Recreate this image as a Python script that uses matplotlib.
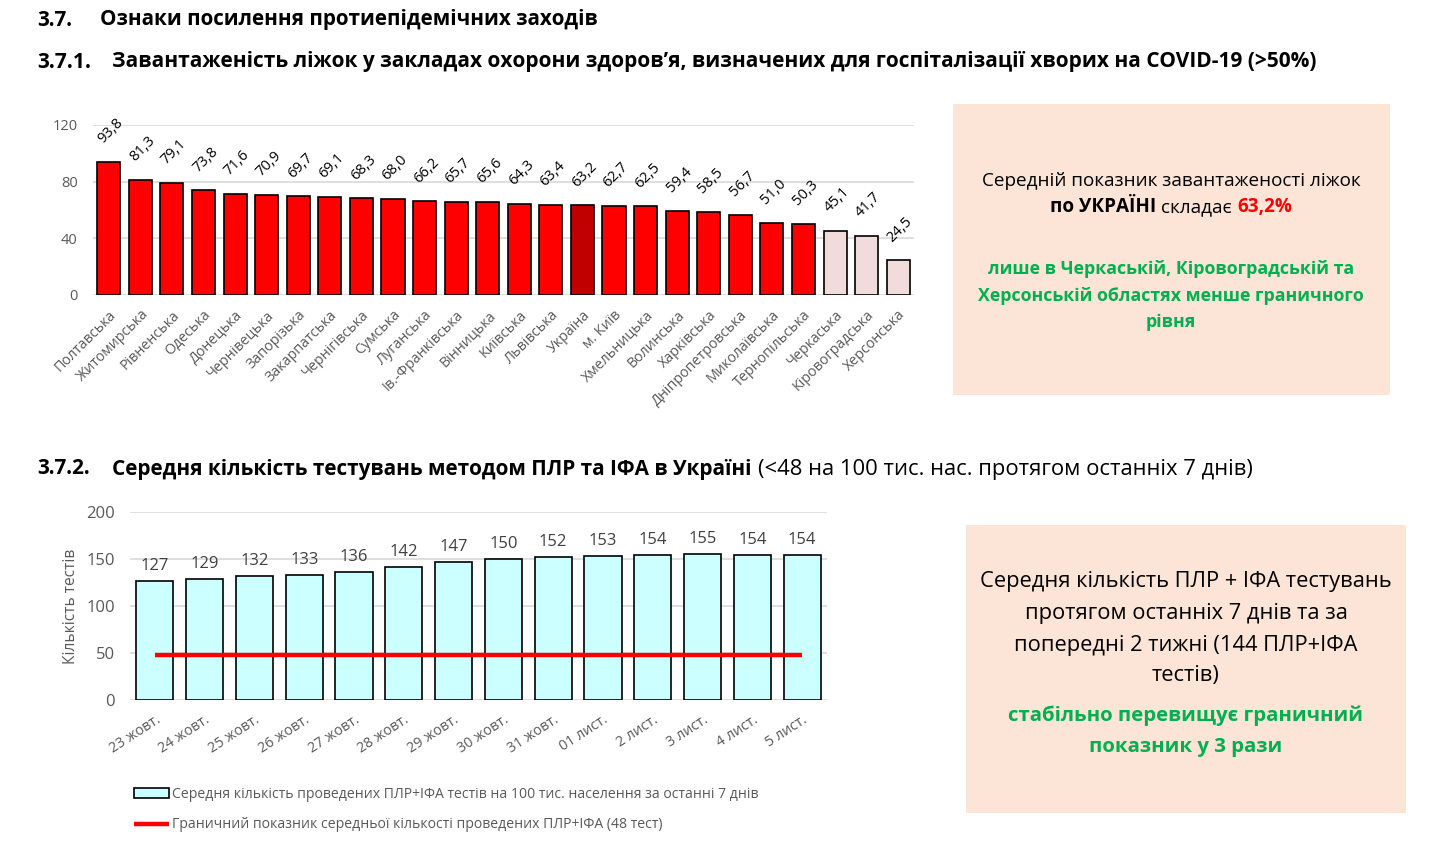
import matplotlib
matplotlib.use("Agg")
import matplotlib.pyplot as plt
import numpy as np
from matplotlib.patches import Rectangle

plt.rcParams["font.family"] = ["Open Sans", "DejaVu Sans"]

# --- Data --------------------------------------------------------------------
regions = ["Полтавська", "Житомирська", "Рівненська", "Одеська", "Донецька",
           "Чернівецька", "Запорізька", "Закарпатська", "Чернігівська", "Сумська",
           "Луганська", "Ів.-Франківська", "Вінницька", "Київська", "Львівська",
           "Україна", "м. Київ", "Хмельницька", "Волинська", "Харківська",
           "Дніпропетровська", "Миколаївська", "Тернопільська", "Черкаська",
           "Кіровоградська", "Херсонська"]
bed_load = [93.8, 81.3, 79.1, 73.8, 71.6, 70.9, 69.7, 69.1, 68.3, 68.0, 66.2,
            65.7, 65.6, 64.3, 63.4, 63.2, 62.7, 62.5, 59.4, 58.5, 56.7, 51.0,
            50.3, 45.1, 41.7, 24.5]
bed_threshold = 50

dates = ["23 жовт.", "24 жовт.", "25 жовт.", "26 жовт.", "27 жовт.", "28 жовт.",
         "29 жовт.", "30 жовт.", "31 жовт.", "01 лист.", "2 лист.", "3 лист.",
         "4 лист.", "5 лист."]
tests = [127, 129, 132, 133, 136, 142, 147, 150, 152, 153, 154, 155, 154, 154]
test_threshold = 48

# --- Figure helpers ----------------------------------------------------------
W, H = 1429, 842
fig = plt.figure(figsize=(W / 100, H / 100), dpi=100)
renderer = fig.canvas.get_renderer()


def fx(x):
    return x / W


def fy(y):
    return 1 - y / H


def put(x, y, s, ha="left", size=12, **kw):
    return fig.text(fx(x), fy(y), s, ha=ha, va="center", fontsize=size, **kw)


def fit(t, width_px):
    w = t.get_window_extent(renderer).width
    t.set_fontsize(t.get_fontsize() * width_px / w)
    return t.get_fontsize()


def run_centered(parts, xc, y, size):
    texts = [put(0, y, s, size=size, fontweight=wt, color=c) for s, wt, c in parts]
    widths = [t.get_window_extent(renderer).width for t in texts]
    gap = size * 0.28 * 100 / 72
    x = xc - (sum(widths) + gap * (len(texts) - 1)) / 2
    for t, w in zip(texts, widths):
        t.set_x(fx(x))
        x += w + gap


GRAY = "#595959"
GREEN = "#00B050"

# --- Titles ------------------------------------------------------------------
t = put(100, 20, "Ознаки посилення протиепідемічних заходів", fontweight="bold")
s = fit(t, 496)
put(37, 20, "3.7.", size=s, fontweight="bold")

t = put(112, 62, "Завантаженість ліжок у закладах охорони здоров’я, визначених "
        "для госпіталізації хворих на COVID-19 (>50%)", fontweight="bold")
s = fit(t, 1200)
put(37, 62, "3.7.1.", size=s, fontweight="bold")

t = put(112, 469, "Середня кількість тестувань методом ПЛР та ІФА в Україні",
        fontweight="bold")
s = fit(t, 640)
put(37, 469, "3.7.2.", size=s, fontweight="bold")
t = put(758, 469, "(<48 на 100 тис. нас. протягом останніх 7 днів)")
fit(t, 492)

# --- Chart 3.7.1 -------------------------------------------------------------
ax1 = fig.add_axes([fx(93), fy(295), (914 - 93) / W, (295 - 125) / H])
x1 = np.arange(len(regions))
colors = ["#C00000" if r == "Україна" else ("#F2DCDB" if v < bed_threshold else "#FF0000")
          for r, v in zip(regions, bed_load)]
ax1.bar(x1, bed_load, width=0.73, color=colors, edgecolor="black", linewidth=1.2,
        zorder=3)
for xi, v in zip(x1, bed_load):
    ax1.annotate(f"{v:.1f}".replace(".", ","), xy=(xi - 0.1, v), xytext=(0, 11),
                 textcoords="offset points", rotation=45, rotation_mode="anchor",
                 ha="left", va="bottom", fontsize=10.6, color="black")
ax1.set_xlim(-0.5, len(regions) - 0.5)
ax1.set_ylim(0, 120)
ax1.set_yticks([0, 40, 80, 120])
ax1.set_xticks(x1)
ax1.set_xticklabels(regions, rotation=45, ha="right", rotation_mode="anchor")
ax1.grid(axis="y", color="#D9D9D9", linewidth=1.2, zorder=0)
ax1.tick_params(axis="both", length=0, colors=GRAY, labelsize=10.3)
ax1.tick_params(axis="y", pad=11, labelsize=10.5)
ax1.tick_params(axis="x", pad=9)
for sp in ax1.spines.values():
    sp.set_visible(False)

# --- Chart 3.7.2 -------------------------------------------------------------
ax2 = fig.add_axes([fx(130), fy(700), (827 - 130) / W, (700 - 512) / H])
x2 = np.arange(len(dates))
bars = ax2.bar(x2, tests, width=0.745, color="#CCFFFF", edgecolor="black",
               linewidth=1.2, zorder=3)
line, = ax2.plot(x2, np.full(len(dates), test_threshold), color="#FF0000",
                 linewidth=3.2, zorder=4, solid_capstyle="butt")
ax2.bar_label(bars, padding=5, fontsize=12, color="#404040")
ax2.set_xlim(-0.5, len(dates) - 0.5)
ax2.set_ylim(0, 200)
ax2.set_yticks([0, 50, 100, 150, 200])
ax2.set_xticks(x2)
ax2.set_xticklabels(dates, rotation=33, ha="right", rotation_mode="anchor")
ax2.grid(axis="y", color="#D9D9D9", linewidth=1.2, zorder=0)
ax2.tick_params(axis="both", length=0, colors=GRAY)
ax2.tick_params(axis="y", pad=11, labelsize=12)
ax2.tick_params(axis="x", pad=9, labelsize=10.3)
ax2.set_ylabel("Кількість тестів", color=GRAY, fontsize=11.2, labelpad=5)
for sp in ax2.spines.values():
    sp.set_visible(False)

leg = ax2.legend([bars, line],
                 ["Середня кількість проведених ПЛР+ІФА тестів на 100 тис. населення за останні 7 днів",
                  "Граничний показник середньої кількості проведених ПЛР+ІФА (48 тест)"],
                 loc="upper left", bbox_to_anchor=(fx(134), fy(787)),
                 bbox_transform=fig.transFigure, frameon=False, fontsize=10.1,
                 handlelength=2.5, handletextpad=0.2, labelspacing=1.1,
                 borderpad=0, borderaxespad=0)
for lt in leg.get_texts():
    lt.set_color(GRAY)

# --- Side boxes --------------------------------------------------------------
fig.add_artist(Rectangle((fx(953), fy(395)), (1390 - 953) / W, (395 - 104) / H,
                         transform=fig.transFigure, facecolor="#FCE4D6",
                         edgecolor="none", zorder=0))
fig.add_artist(Rectangle((fx(966), fy(813)), (1406 - 966) / W, (813 - 525) / H,
                         transform=fig.transFigure, facecolor="#FCE4D6",
                         edgecolor="none", zorder=0))

t = put(1171, 181, "Середній показник завантаженості ліжок", ha="center")
s = fit(t, 378)
run_centered([("по УКРАЇНІ", "bold", "black"), ("складає", "normal", "black"),
              ("63,2%", "bold", "#FF0000")], 1171, 207, s)
t = put(1171, 296, "Херсонській областях менше граничного", ha="center",
        fontweight="bold", color=GREEN)
sg = fit(t, 384)
for y, line_text in zip([269, 322], ["лише в Черкаській, Кіровоградській та", "рівня"]):
    put(1171, y, line_text, ha="center", size=sg, fontweight="bold", color=GREEN)

t = put(1186, 582, "Середня кількість ПЛР + ІФА тестувань", ha="center")
s = fit(t, 410)
for y, line_text in zip([614, 645, 676], ["протягом останніх 7 днів та за",
                                           "попередні 2 тижні (144 ПЛР+ІФА",
                                           "тестів)"]):
    put(1186, y, line_text, ha="center", size=s)
t = put(1186, 716, "стабільно перевищує граничний", ha="center",
        fontweight="bold", color=GREEN)
sg = fit(t, 355)
put(1186, 747, "показник у 3 рази", ha="center", size=sg, fontweight="bold",
    color=GREEN)

fig.savefig("out.png", dpi=100)
